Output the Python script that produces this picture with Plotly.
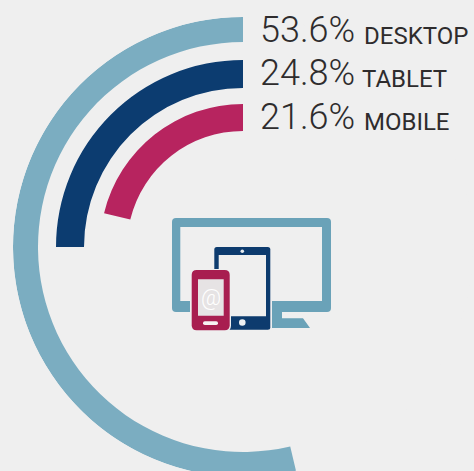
import plotly.graph_objects as go

categories = ["DESKTOP", "TABLET", "MOBILE"]
share_labels = ["53.6%", "24.8%", "21.6%"]
# swept extent of each arc, in percent of the full circle
arc_shares = [53.7, 25.0, 21.2]
colors = ["#7BADC1", "#0C3C70", "#B7245F"]
inner_radius = [205, 159, 116]
thickness = [25, 28, 27]

W, H = 474, 477
CX, CY, R = 243, 247, 230
BG = "#EFEFEF"
TEXT = "#2E2C2D"


def px(x):
    return x / W


def py(y):
    return 1 - y / H


def rrect(x0, y0, x1, y1, r, fill):
    p = (f"M{px(x0+r)},{py(y0)} L{px(x1-r)},{py(y0)} Q{px(x1)},{py(y0)} {px(x1)},{py(y0+r)} "
         f"L{px(x1)},{py(y1-r)} Q{px(x1)},{py(y1)} {px(x1-r)},{py(y1)} "
         f"L{px(x0+r)},{py(y1)} Q{px(x0)},{py(y1)} {px(x0)},{py(y1-r)} "
         f"L{px(x0)},{py(y0+r)} Q{px(x0)},{py(y0)} {px(x0+r)},{py(y0)} Z")
    return dict(type="path", xref="paper", yref="paper", path=p, fillcolor=fill, line=dict(width=0))


def poly(points, fill):
    p = "M" + " L".join(f"{px(x)},{py(y)}" for x, y in points) + " Z"
    return dict(type="path", xref="paper", yref="paper", path=p, fillcolor=fill, line=dict(width=0))


def dot(cx, cy, r, fill):
    return dict(type="circle", xref="paper", yref="paper", x0=px(cx - r), x1=px(cx + r),
                y0=py(cy + r), y1=py(cy - r), fillcolor=fill, line=dict(width=0))


ICON_BLUE, ICON_NAVY, ICON_RED = "#6AA2B8", "#0D3B6E", "#A81E50"
shapes = [
    rrect(172, 218, 331, 312, 4, ICON_BLUE),
    rrect(180.3, 227, 322, 301, 0, BG),
    rrect(190, 301, 272, 312.5, 0, BG),
    poly([(272, 312), (282, 312), (282, 318.3), (303, 318.3), (310, 328), (272, 328)], ICON_BLUE),
    rrect(212, 245, 272, 331, 3, BG),
    rrect(214.3, 247, 270.3, 329.7, 2.5, ICON_NAVY),
    rrect(218.7, 255, 266, 316.3, 0, BG),
    dot(242.3, 251.3, 1.8, "#E8ECEF"),
    dot(242.3, 322.5, 3.3, "#EEF1F3"),
    rrect(190.5, 269, 231, 331.5, 6, BG),
    rrect(191.7, 270, 229.7, 330.3, 5, ICON_RED),
    rrect(198, 279.3, 223.7, 315.7, 0, "#E6E3E4"),
    rrect(203, 321.3, 218, 325, 1.8, "#F6F2F3"),
]

fig = go.Figure()
for name, value, color, r0, t in zip(categories, arc_shares, colors, inner_radius, thickness):
    span = value * 3.6
    fig.add_trace(go.Barpolar(
        r=[t], base=[r0], theta=[span / 2], width=[span], name=name,
        marker=dict(color=color, line=dict(width=0)), showlegend=False, hoverinfo="name",
    ))

annotations = []
for lab, cat, yc, xcat, ycat in zip(share_labels, categories, [29.5, 72.5, 117], [363, 361, 363], [36, 78.5, 122]):
    annotations.append(dict(text=lab, x=px(259), y=py(yc), xref="paper", yref="paper", xanchor="left",
                            yanchor="middle", showarrow=False, borderpad=0,
                            font=dict(family="Roboto", size=36, color=TEXT, weight=300)))
    annotations.append(dict(text=cat, x=px(xcat), y=py(ycat), xref="paper", yref="paper", xanchor="left",
                            yanchor="middle", showarrow=False, borderpad=0,
                            font=dict(family="Roboto", size=24, color=TEXT, weight=400)))
annotations.append(dict(text="@", x=px(210.5), y=py(297), xref="paper", yref="paper", showarrow=False,
                        font=dict(family="Roboto", size=22, color="#FFFFFF", weight=300)))

fig.update_layout(
    width=W, height=H, margin=dict(l=0, r=0, t=0, b=0), autosize=False,
    paper_bgcolor=BG, plot_bgcolor=BG, barmode="overlay", showlegend=False,
    polar=dict(
        domain=dict(x=[(CX - R) / W, (CX + R) / W], y=[1 - (CY + R) / H, 1 - (CY - R) / H]),
        bgcolor=BG,
        radialaxis=dict(visible=False, range=[0, R]),
        angularaxis=dict(visible=False, rotation=90, direction="counterclockwise"),
    ),
    shapes=shapes, annotations=annotations,
)

fig.write_html(
    "out.html",
    config=dict(displayModeBar=False),
    post_script="document.body.style.margin='0';document.body.style.overflow='hidden';"
                "document.documentElement.style.overflow='hidden';document.documentElement.style.background='#EFEFEF';document.body.style.background='#EFEFEF';",
)
